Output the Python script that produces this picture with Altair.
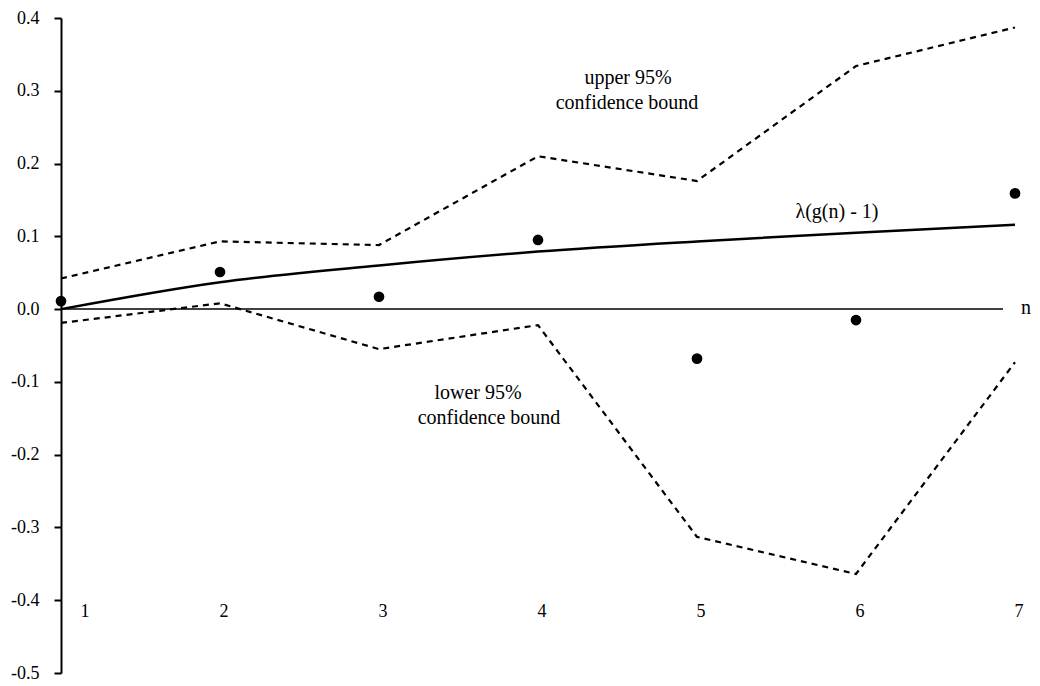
import altair as alt
import pandas as pd

n_vals = [1, 2, 3, 4, 5, 6, 7]
estimates = [0.011, 0.051, 0.017, 0.095, -0.068, -0.015, 0.159]
upper = [0.042, 0.093, 0.088, 0.210, 0.176, 0.334, 0.387]
lower = [-0.019, 0.008, -0.055, -0.022, -0.313, -0.364, -0.073]
curve = [0.0, 0.037, 0.060, 0.079, 0.093, 0.105, 0.116]
x_labels = ["1", "2", "3", "4", "5", "6", "7"]

df = pd.DataFrame({"n": n_vals, "est": estimates, "upper": upper,
                   "lower": lower, "curve": curve, "lab": x_labels})

FONT = "'Liberation Serif', 'Times New Roman', serif"
FS = 18
xs = alt.Scale(domain=[1, 7], nice=False, zero=False)
ys = alt.Scale(domain=[-0.5, 0.4], nice=False, zero=False)

base = alt.Chart(df)

yaxis = alt.Axis(values=[-0.5, -0.4, -0.3, -0.2, -0.1, 0.0, 0.1, 0.2, 0.3, 0.4],
                 labelExpr="replace(format(datum.value, '.1f'), '\u2212', '-')",
                 grid=False, domainColor="black", domainWidth=2,
                 tickColor="black", tickWidth=2, tickSize=7,
                 labelFont=FONT, labelFontSize=FS, labelColor="black",
                 labelPadding=15, title=None)

x_enc = alt.X("n:Q", scale=xs, axis=None)

upper_line = base.mark_line(color="black", strokeWidth=2.2, strokeDash=[6, 5]).encode(
    x=x_enc, y=alt.Y("upper:Q", scale=ys, axis=yaxis))
lower_line = base.mark_line(color="black", strokeWidth=2.2, strokeDash=[6, 5]).encode(
    x=x_enc, y=alt.Y("lower:Q", scale=ys))
curve_line = base.mark_line(color="black", strokeWidth=2.5, interpolate="monotone").encode(
    x=x_enc, y=alt.Y("curve:Q", scale=ys))
dots = base.mark_circle(color="black", opacity=1, size=115).encode(
    x=x_enc, y=alt.Y("est:Q", scale=ys))

zero_rule = alt.Chart(pd.DataFrame({"z": [0.0]})).mark_rule(color="black", strokeWidth=1.5).encode(
    y=alt.Y("z:Q", scale=ys), x=alt.value(0), x2=alt.value(942))

xlab_main = base.transform_filter("datum.n > 1").mark_text(
    font=FONT, fontSize=FS, color="black", align="center", baseline="middle", dx=4).encode(
    x=x_enc, y=alt.value(594), text="lab:N")
xlab_first = base.transform_filter("datum.n == 1").mark_text(
    font=FONT, fontSize=FS, color="black", align="center", baseline="middle", dx=24).encode(
    x=x_enc, y=alt.value(594), text="lab:N")

def note(txt, px, py, align="center"):
    return alt.Chart(pd.DataFrame({"t": [txt]})).mark_text(
        font=FONT, fontSize=20, color="black", align=align, baseline="middle").encode(
        x=alt.value(px), y=alt.value(py), text="t:N")

notes = [
    note("upper 95%", 567, 60),
    note("confidence bound", 566, 85),
    note("\u03bb(g(n) - 1)", 776, 194),
    note("lower 95%", 417, 375),
    note("confidence bound", 428, 400),
    note("n", 960, 290, align="left"),
]

chart = alt.layer(upper_line, lower_line, zero_rule, curve_line, dots,
                  xlab_main, xlab_first, *notes).properties(
    width=954, height=655,
    background="white",
    autosize=alt.AutoSizeParams(type="none"),
    padding={"left": 53, "top": 10, "right": 17, "bottom": 10},
).configure_view(strokeWidth=0, stroke="transparent")

chart.save("out.html", embed_options={"renderer": "svg", "actions": False})
